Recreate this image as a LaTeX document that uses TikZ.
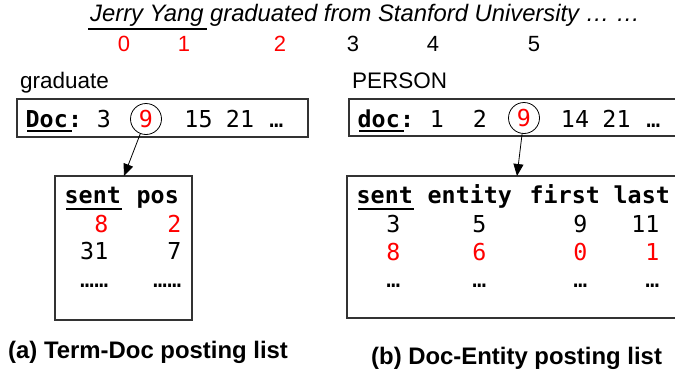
\documentclass[tikz,border=0pt]{standalone}
\usepackage{fontspec}
\setmainfont{Liberation Sans}
\newfontfamily\mono{DejaVu Sans Mono}
\usetikzlibrary{arrows.meta}
\definecolor{hl}{RGB}{255,0,0}
\begin{document}
\begin{tikzpicture}[x=1pt,y=-1pt,
  txt/.style={inner sep=0pt, anchor=base},
  lbl/.style={txt, anchor=base west, font=\fontsize{22.5}{26}\selectfont},
  sen/.style={txt, font=\itshape\fontsize{23.8}{27}\selectfont},
  idx/.style={txt, font=\fontsize{22}{26}\selectfont},
  mt/.style={txt, font=\mono\fontsize{23.3}{27}\selectfont},
  mbw/.style={txt, anchor=base west, font=\mono\bfseries\fontsize{23.3}{27}\selectfont},
  me/.style={mt, anchor=base east},
  hltxt/.style={text=hl},
  captxt/.style={txt, anchor=base west, font=\bfseries\fontsize{23.9}{27}\selectfont},
  box/.style={draw=black!80, line width=1.1pt},
  ring/.style={circle, draw, line width=0.8pt, minimum size=31pt, inner sep=0pt,
               font=\mono\fontsize{23.3}{27}\selectfont, text=hl},
  ptr/.style={-{Triangle[length=12pt,width=10pt]}, line width=0.8pt},
  ul/.style={line width=2.2pt},
]
\useasboundingbox (0,0) rectangle (675,376);

% sentence with token positions
\node[sen, anchor=base west] (sent) at (90,21) {Jerry Yang graduated from Stanford University … …};
\draw[ul] (88,29) -- (207,29);
\node[idx, hltxt] (t0) at (124,51) {0};
\node[idx, hltxt] (t1) at (184,51) {1};
\node[idx, hltxt] (t2) at (280,51) {2};
\node[idx] (t3) at (353,51) {3};
\node[idx] (t4) at (433,51) {4};
\node[idx] (t5) at (534,51) {5};

% term-doc posting list
\node[lbl] (lgrad) at (20,88) {graduate};
\draw[box] (17,99) rectangle (308,137);
\node[mbw] (dL) at (25.5,127) {Doc};
\node[mbw, anchor=base west] (dLc) at (dL.base east) {:};
\draw[ul] (dL.base west) ++(1.5,4) -- ++(45,0);
\node[mt] (a3) at (104,127) {3};
\node[ring] (cL) at (146,119) {9};
\node[mt] (a15) at (198.5,127) {15};
\node[mt] (a21) at (240,127) {21};
\node[mt] (adots) at (276.5,127) {…};

\draw[box] (55,176) rectangle (192,320);
\coordinate (tL) at (124,176);
\node[mbw] (hsL) at (64.5,203) {sent};
\draw[ul] (66,209) -- (122,209);
\node[mbw] (hpL) at (136.5,203) {pos};
\node[me, hltxt] (l11) at (108.5,232) {8};
\node[me, hltxt] (l12) at (181.5,232) {2};
\node[me] (l21) at (108.5,259) {31};
\node[me] (l22) at (181.5,259) {7};
\node[me] (l31) at (108.5,287) {……};
\node[me] (l32) at (181.5,287) {……};
\draw[ptr] (cL) -- (tL);

% doc-entity posting list
\node[lbl] (lper) at (352,88) {PERSON};
\draw[box] (690,99) -- (349,99) -- (349,136) -- (690,136);
\node[mbw] (dR) at (357.5,127) {doc};
\node[mbw, anchor=base west] (dRc) at (dR.base east) {:};
\draw[ul] (dR.base west) ++(1.5,4) -- ++(45,0);
\node[mt] (b1) at (437,127) {1};
\node[mt] (b2) at (480,127) {2};
\node[ring] (cR) at (524,118) {9};
\node[mt] (b14) at (575,127) {14};
\node[mt] (b21) at (616.5,127) {21};
\node[mt] (bdots) at (653.5,127) {…};

\draw[box] (690,176) -- (347,176) -- (347,318) -- (690,318);
\coordinate (tR) at (517,176);
\node[mbw] (hsR) at (356.5,203) {sent};
\draw[ul] (358,209) -- (414,209);
\node[mbw] (heR) at (427.5,203) {entity};
\node[mbw] (hfR) at (529.5,203) {first};
\node[mbw] (hlR) at (613.5,203) {last};
\node[me] (r11) at (400.5,232) {3};
\node[me] (r12) at (486.5,232) {5};
\node[me] (r13) at (587.5,232) {9};
\node[me] (r14) at (659.5,232) {11};
\node[me, hltxt] (r21) at (400.5,260) {8};
\node[me, hltxt] (r22) at (486.5,260) {6};
\node[me, hltxt] (r23) at (587.5,260) {0};
\node[me, hltxt] (r24) at (659.5,260) {1};
\node[me] (r31) at (400.5,287) {…};
\node[me] (r32) at (486.5,287) {…};
\node[me] (r33) at (587.5,287) {…};
\node[me] (r34) at (659.5,287) {…};
\draw[ptr] (cR) -- (tR);

% captions
\node[captxt] (capa) at (8,358) {(a) Term-Doc posting list};
\node[captxt] (capb) at (371,364) {(b) Doc-Entity posting list};
\end{tikzpicture}
\end{document}
